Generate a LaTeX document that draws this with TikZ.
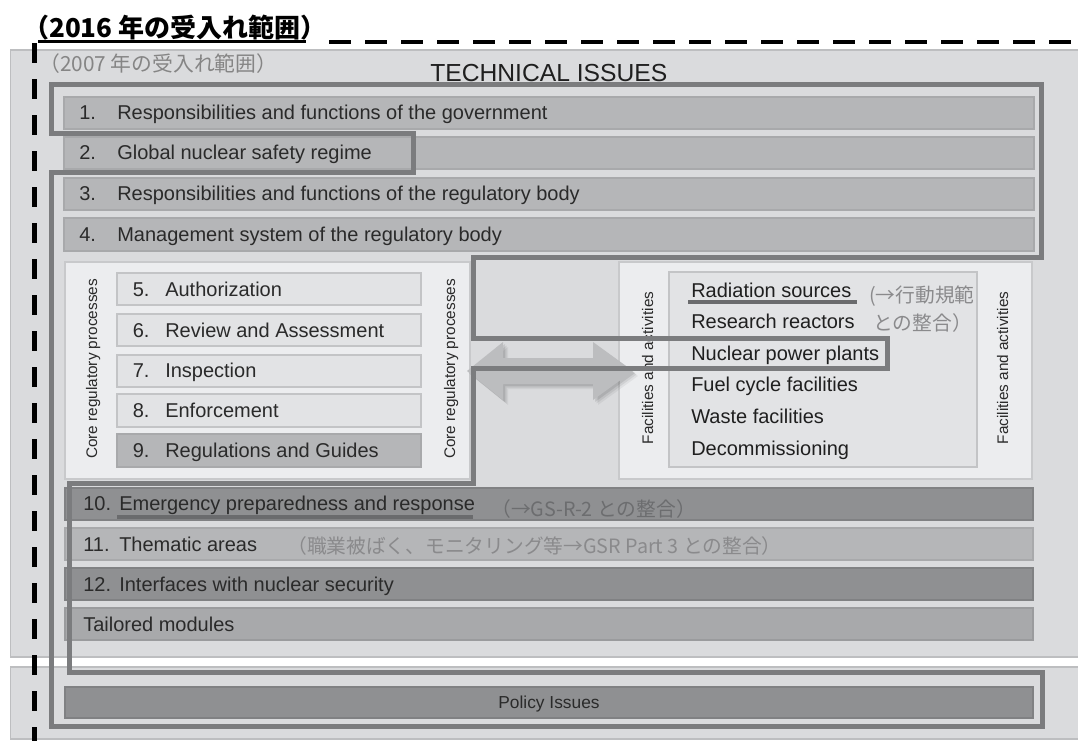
\documentclass[tikz,border=0pt]{standalone}
\usepackage{fontspec}
\setmainfont{Liberation Sans}
\newfontfamily\cjk{Noto Sans CJK JP}
\newcommand{\myfs}[1]{\fontsize{#1pt}{#1pt}\selectfont}
\definecolor{pbg}{HTML}{DADBDD}
\definecolor{pbd}{HTML}{BDBEC0}
\definecolor{lbg}{HTML}{ECEDEF}
\definecolor{lbd}{HTML}{C8C9CB}
\definecolor{cbg}{HTML}{E2E3E5}
\definecolor{cbd}{HTML}{C3C4C6}
\definecolor{mbg}{HTML}{B5B6B8}
\definecolor{mbd}{HTML}{A8A9AB}
\definecolor{dbg}{HTML}{8F9092}
\definecolor{dbd}{HTML}{808183}
\definecolor{tbg}{HTML}{A8A9AB}
\definecolor{tbd}{HTML}{9A9B9D}
\definecolor{olc}{HTML}{7B7C7E}
\definecolor{ulc}{HTML}{6A6B6D}
\definecolor{txtc}{HTML}{2A2A2A}
\definecolor{anc}{HTML}{8A8A8C}
\definecolor{anc2}{HTML}{6C6D6F}
\definecolor{arc}{HTML}{BCBDBF}
\begin{document}
\begin{tikzpicture}[x=0.75pt,y=-0.75pt,
  panel/.style={fill=pbg,draw=pbd,line width=1.1pt},
  lpanel/.style={fill=lbg,draw=lbd,line width=0.9pt},
  cbar/.style={fill=cbg,draw=cbd,line width=0.9pt},
  mbar/.style={fill=mbg,draw=mbd,line width=0.9pt},
  dbar/.style={fill=dbg,draw=dbd,line width=0.9pt},
  tbar/.style={fill=tbg,draw=tbd,line width=0.9pt},
  itxt/.style={inner sep=0pt,anchor=base west,font=\myfs{15},text=txtc},
  ftxt/.style={inner sep=0pt,anchor=base west,font=\myfs{15},text=black!88},
  rlabel/.style={inner sep=0pt,anchor=base,rotate=90,font=\myfs{11.5},text=txtc},
  ann/.style={inner sep=0pt,anchor=base west,font=\cjk\myfs{14.8},text=anc},
  uline/.style={draw=ulc,line width=3pt},
  outl/.style={draw=olc,line width=3.75pt,line join=miter},
  dashv/.style={draw=black,line width=3.6pt,dash pattern=on 15pt off 12pt},
  dashh/.style={draw=black,line width=3.2pt,dash pattern=on 16.5pt off 10.5pt}]
\useasboundingbox (0,0) rectangle (1078,740);
\clip (0,0) rectangle (1078,740);
\fill[white] (0,0) rectangle (1078,740);
% panels
\path[panel] (10.3,50) rectangle (1095,657);
\path[panel] (10.3,667) rectangle (1095,739);
% items 1-4
\path[mbar] (64,97) rectangle (1034,129);
\path[mbar] (64,137) rectangle (1034,169);
\path[mbar] (64,178) rectangle (1034,210);
\path[mbar] (64,218) rectangle (1034,251);
% middle panels
\path[lpanel] (65,262) rectangle (470,479);
\path[lpanel] (619,262) rectangle (1032,479);
\path[cbar] (669,272) rectangle (977,467);
% core items
\path[cbar] (117,273) rectangle (421,305);
\path[cbar] (117,314) rectangle (421,346);
\path[cbar] (117,355) rectangle (421,387);
\path[cbar] (117,394) rectangle (421,427);
\path[mbar] (117,434) rectangle (421,467);
% bottom items
\path[dbar] (65,488) rectangle (1033,520);
\path[mbar] (65,528) rectangle (1033,560);
\path[dbar] (65,568) rectangle (1033,600);
\path[tbar] (65,608) rectangle (1033,640);
\path[dbar] (65,687) rectangle (1033,718);
% double arrow with shadow
\foreach \s/\o in {5/0.05,3.5/0.07,2/0.09}{
  \fill[black,opacity=\o,shift={(\s,\s)}] (467,371) -- (503,342) -- (503,358) -- (593,358) -- (593,342) -- (633,371) -- (593,400) -- (593,384) -- (503,384) -- (503,400) -- cycle;}
\fill[arc] (467,371) -- (503,342) -- (503,358) -- (593,358) -- (593,342) -- (633,371) -- (593,400) -- (593,384) -- (503,384) -- (503,400) -- cycle;
% texts
\node[inner sep=0pt,anchor=base west,font=\myfs{18.5},text=black!88] (tech) at (430,81) {TECHNICAL ISSUES};
\node[inner sep=0pt,anchor=base west,font=\cjk\myfs{15.6},text=black!48] (y2007) at (39,71) {（2007 年の受入れ範囲）};
\node[itxt] (n1) at (79,119) {1.};
\node[itxt] (t1) at (117,119) {Responsibilities and functions of the government};
\node[itxt] (n2) at (79,159.5) {2.};
\node[itxt] (t2) at (117,159.5) {Global nuclear safety regime};
\node[itxt] (n3) at (79,200.5) {3.};
\node[itxt] (t3) at (117,200.5) {Responsibilities and functions of the regulatory body};
\node[itxt] (n4) at (79,241) {4.};
\node[itxt] (t4) at (117,241) {Management system of the regulatory body};
\node[itxt] (n5) at (132.6,296) {5.};
\node[itxt] (t5) at (165,296) {Authorization};
\node[itxt] (n6) at (132.6,337) {6.};
\node[itxt] (t6) at (165,337) {Review and Assessment};
\node[itxt] (n7) at (132.6,377.5) {7.};
\node[itxt] (t7) at (165,377.5) {Inspection};
\node[itxt] (n8) at (132.6,417) {8.};
\node[itxt] (t8) at (165,417) {Enforcement};
\node[itxt] (n9) at (132.6,457) {9.};
\node[itxt] (t9) at (165,457) {Regulations and Guides};
\node[rlabel] (crl) at (97,369) {Core regulatory processes};
\node[rlabel] (crr) at (455,369) {Core regulatory processes};
\node[rlabel] (fal) at (653,368) {Facilities and activities};
\node[rlabel] (far) at (1008,368) {Facilities and activities};
\node[ftxt] (f1) at (691,297) {Radiation sources};
\node[ftxt] (f2) at (691,328.5) {Research reactors};
\node[ftxt] (f3) at (691,360) {Nuclear power plants};
\node[ftxt] (f4) at (691,391.5) {Fuel cycle facilities};
\node[ftxt] (f5) at (691,423) {Waste facilities};
\node[ftxt] (f6) at (691,455) {Decommissioning};
\node[ann] (a1) at (869,302) {(→行動規範};
\node[ann] (a2) at (873,330.5) {との整合）};
\node[itxt] (n10) at (83,510) {10.};
\node[itxt] (t10) at (119,510) {Emergency preparedness and response};
\node[ann,text=anc2] (a10) at (491,516) {（→GS-R-2 との整合）};
\node[itxt] (n11) at (83,551) {11.};
\node[itxt] (t11) at (119,551) {Thematic areas};
\node[ann] (a11) at (287,553) {（職業被ばく、モニタリング等→GSR Part 3 との整合）};
\node[itxt] (n12) at (83,591) {12.};
\node[itxt] (t12) at (119,591) {Interfaces with nuclear security};
\node[itxt] (tm) at (83,631) {Tailored modules};
\node[inner sep=0pt,anchor=base,font=\myfs{13},text=txtc] (pol) at (549,708) {Policy Issues};
% underlines
\draw[uline] (688,302) -- (857,302);
\draw[uline] (117,517) -- (473,517);
% thick outline
\draw[outl] (51.6,84.5) -- (1041,84.5) -- (1041,257) -- (473.5,257) -- (473.5,338.5) -- (887,338.5) -- (887,368) -- (473.5,368) -- (473.5,483.5) -- (69.5,483.5) -- (69.5,672) -- (1042,672) -- (1042,726) -- (51.6,726) -- (51.6,172) -- (413,172) -- (413,133.5) -- (51.6,133.5) -- cycle;
% dashed 2016 boundary
\draw[dashv] (34.4,43) -- (34.4,745);
\draw[dashh] (329,42) -- (1095,42);
\node[inner sep=0pt,anchor=base west,font=\cjk\bfseries\myfs{19.5},text=black] (y2016) at (23,37.5) {（2016 年の受入れ範囲）};
\draw[black,line width=1.8pt] (38,41.5) -- (306,41.5);
\end{tikzpicture}
\end{document}
